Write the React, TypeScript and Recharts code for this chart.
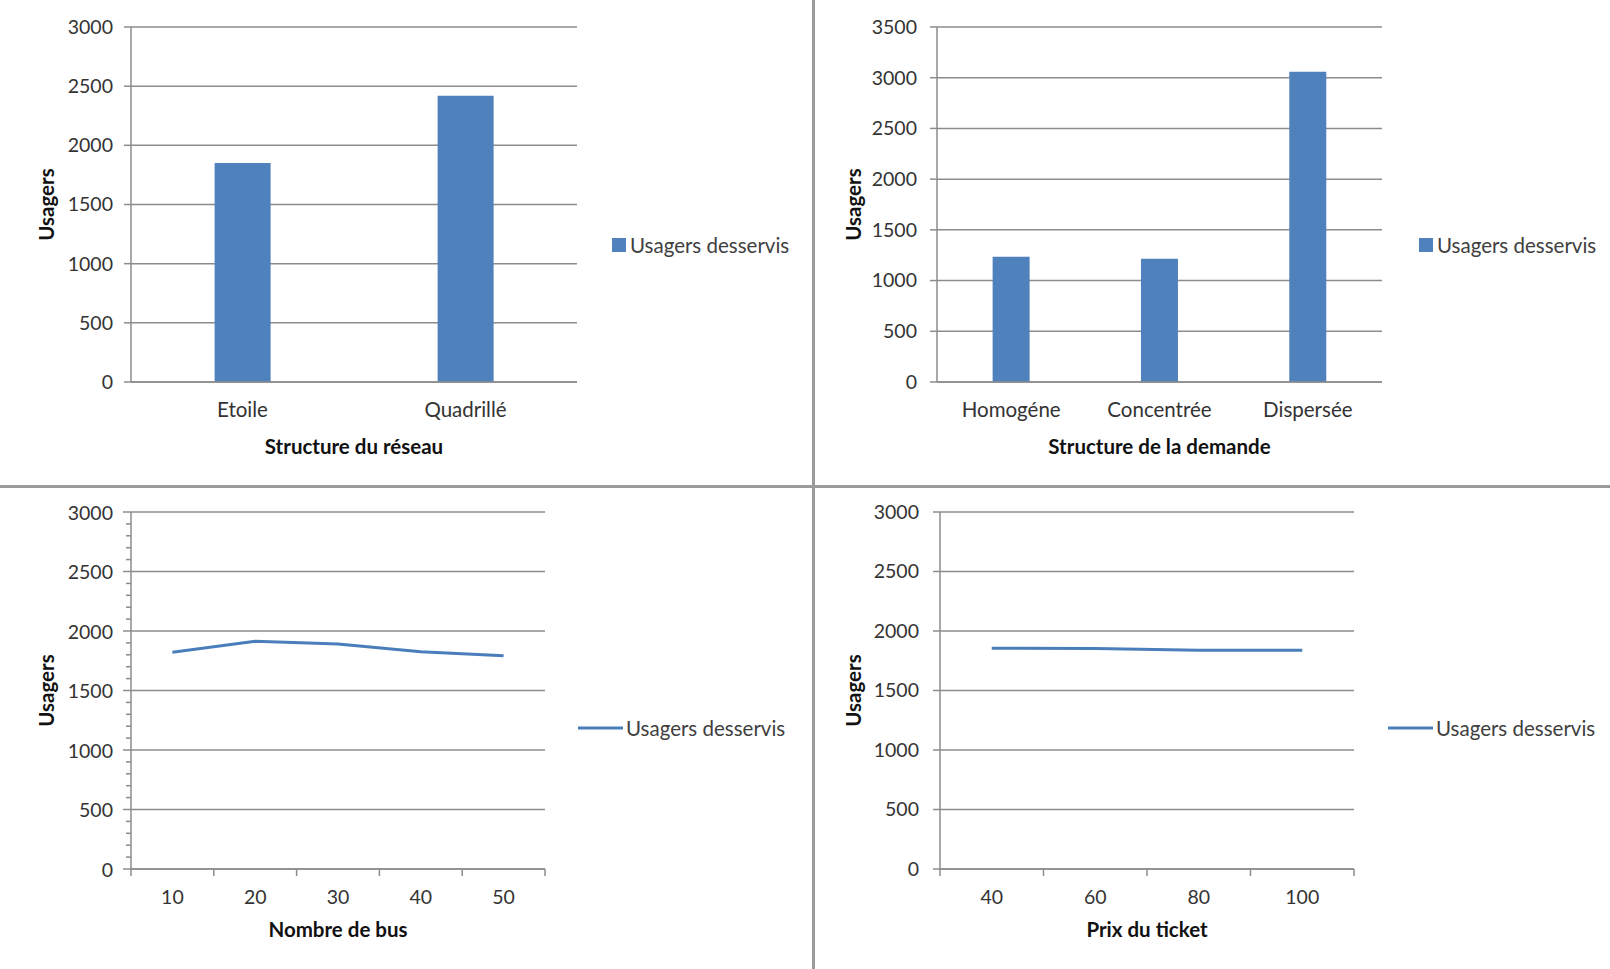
import React from 'react';
import { BarChart, Bar, LineChart, Line, XAxis, YAxis, CartesianGrid, Legend } from 'recharts';

const reseauCategories = ['Etoile', 'Quadrillé'];
const reseauUsagers = [1850, 2420];

const demandeCategories = ['Homogéne', 'Concentrée', 'Dispersée'];
const demandeUsagers = [1235, 1215, 3060];

const busCounts = [10, 20, 30, 40, 50];
const busUsagers = [1822, 1913, 1890, 1826, 1792];

const ticketPrices = [40, 60, 80, 100];
const ticketUsagers = [1856, 1853, 1838, 1838];

const ticks3000 = [0, 500, 1000, 1500, 2000, 2500, 3000];
const ticks3500 = [0, 500, 1000, 1500, 2000, 2500, 3000, 3500];
const minorTicks3000 = Array.from({ length: 31 }, (_, i) => i * 100);
const busBounds = [5, 15, 25, 35, 45, 55];
const ticketBounds = [30, 50, 70, 90, 110];

const SERIES = 'Usagers desservis';
const BLUE = '#4f81bd';
const LINE_BLUE = '#4a7ebb';
const GRID = '#8c8c8c';
const FONT = 'Lato, "Open Sans", sans-serif';

const reseauData = reseauCategories.map((c, i) => ({ cat: c, usagers: reseauUsagers[i] }));
const demandeData = demandeCategories.map((c, i) => ({ cat: c, usagers: demandeUsagers[i] }));
const busData = busCounts.map((b, i) => ({ x: b, usagers: busUsagers[i] }));
const ticketData = ticketPrices.map((p, i) => ({ x: p, usagers: ticketUsagers[i] }));

const numStyle = { fontSize: 19.5, fill: '#333', fontFamily: FONT };
const catStyle = { fontSize: 20.5, fill: '#333', fontFamily: FONT };
const titleStyle = { fontSize: 20.5, fill: '#111', fontWeight: 700, fontFamily: FONT };

function LegendItem(props: any) {
  const item = props.payload?.[0];
  const color = item?.color ?? BLUE;
  return (
    <div style={{ display: 'flex', alignItems: 'center', fontFamily: FONT, fontSize: 20.5, color: '#404040', lineHeight: '22px' }}>
      {props.kind === 'square' ? (
        <svg width={14} height={14} style={{ marginRight: 4 }}>
          <rect x={0} y={0} width={14} height={14} fill={color} />
        </svg>
      ) : (
        <svg width={45} height={4} style={{ marginRight: 3 }}>
          <line x1={0} y1={2} x2={45} y2={2} stroke={color} strokeWidth={3} />
        </svg>
      )}
      <span>{item?.value}</span>
    </div>
  );
}

// y ticks with minor marks every 100, labels only on multiples of 500
function MinorYTick(props: any) {
  const { x, y, payload } = props;
  const major = payload.value % 500 === 0;
  return (
    <g>
      <line x1={x} y1={y} x2={x - (major ? 8 : 5)} y2={y} stroke={GRID} strokeWidth={1.5} />
      {major && (
        <text x={x - 18} y={y} textAnchor="end" dominantBaseline="central" style={numStyle}>
          {payload.value}
        </text>
      )}
    </g>
  );
}

// x ticks: tick marks on category bounds, labels on centres
function makeBoundXTick(bounds: number[]) {
  return function BoundXTick(props: any) {
    const { x, y, payload } = props;
    if (bounds.includes(payload.value)) {
      return <line x1={x} y1={y} x2={x} y2={y + 7} stroke={GRID} strokeWidth={1.5} />;
    }
    return (
      <text x={x} y={y + 27} textAnchor="middle" dominantBaseline="central" style={numStyle}>
        {payload.value}
      </text>
    );
  };
}

const BusXTick = makeBoundXTick(busBounds);
const TicketXTick = makeBoundXTick(ticketBounds);

function yLabel(offset: number) {
  return { value: 'Usagers', angle: -90, position: 'insideLeft' as const, offset, style: { ...titleStyle, textAnchor: 'middle' } };
}

function xLabel(value: string, offset: number) {
  return { value, position: 'insideBottom' as const, offset, style: titleStyle };
}

function ReseauChart() {
  return (
    <BarChart width={800} height={484} data={reseauData} margin={{ top: 27, right: 223, bottom: 0, left: 0 }} barCategoryGap="37.5%">
      <CartesianGrid vertical={false} stroke={GRID} strokeWidth={1.5} />
      <XAxis dataKey="cat" height={102} tickLine={false} tickSize={0} tickMargin={20} stroke={GRID} strokeWidth={1.5} tick={catStyle} label={xLabel('Structure du réseau', 30)} />
      <YAxis width={131} domain={[0, 3000]} ticks={ticks3000} interval={0} tickSize={7} tickMargin={11} stroke={GRID} strokeWidth={1.5} tick={numStyle} label={yLabel(47)} />
      <Legend layout="horizontal" align="center" verticalAlign="middle" wrapperStyle={{ left: 612, top: 234, width: 190 }} content={(p: any) => <LegendItem {...p} kind="square" />} />
      <Bar dataKey="usagers" name={SERIES} fill={BLUE} isAnimationActive={false} />
    </BarChart>
  );
}

function DemandeChart() {
  return (
    <BarChart width={810} height={484} data={demandeData} margin={{ top: 27, right: 228, bottom: 0, left: 0 }} barCategoryGap="37.5%">
      <CartesianGrid vertical={false} stroke={GRID} strokeWidth={1.5} />
      <XAxis dataKey="cat" height={102} tickLine={false} tickSize={0} tickMargin={20} stroke={GRID} strokeWidth={1.5} tick={catStyle} label={xLabel('Structure de la demande', 30)} />
      <YAxis width={137} domain={[0, 3500]} ticks={ticks3500} interval={0} tickSize={7} tickMargin={13} stroke={GRID} strokeWidth={1.5} tick={numStyle} label={yLabel(54)} />
      <Legend layout="horizontal" align="center" verticalAlign="middle" wrapperStyle={{ left: 619, top: 234, width: 190 }} content={(p: any) => <LegendItem {...p} kind="square" />} />
      <Bar dataKey="usagers" name={SERIES} fill={BLUE} isAnimationActive={false} />
    </BarChart>
  );
}

function BusChart() {
  return (
    <LineChart width={800} height={485} data={busData} margin={{ top: 28, right: 255, bottom: 0, left: 0 }}>
      <CartesianGrid vertical={false} stroke={GRID} strokeWidth={1.5} horizontalValues={ticks3000} />
      <XAxis type="number" dataKey="x" domain={[5, 55]} ticks={[...busBounds, ...busCounts].sort((a, b) => a - b)} interval={0} height={100} tickLine={false} tickSize={0} tickMargin={0} stroke={GRID} strokeWidth={1.5} tick={<BusXTick />} label={xLabel('Nombre de bus', 32)} />
      <YAxis width={131} domain={[0, 3000]} ticks={minorTicks3000} interval={0} tickLine={false} tickSize={0} tickMargin={0} stroke={GRID} strokeWidth={1.5} tick={<MinorYTick />} label={yLabel(47)} />
      <Legend layout="horizontal" align="center" verticalAlign="middle" wrapperStyle={{ left: 578, top: 233, width: 210 }} content={(p: any) => <LegendItem {...p} kind="line" />} />
      <Line dataKey="usagers" name={SERIES} stroke={LINE_BLUE} strokeWidth={3} dot={false} type="linear" isAnimationActive={false} />
    </LineChart>
  );
}

function TicketChart() {
  return (
    <LineChart width={810} height={485} data={ticketData} margin={{ top: 28, right: 256, bottom: 0, left: 0 }}>
      <CartesianGrid vertical={false} stroke={GRID} strokeWidth={1.5} />
      <XAxis type="number" dataKey="x" domain={[30, 110]} ticks={[...ticketBounds, ...ticketPrices].sort((a, b) => a - b)} interval={0} height={100} tickLine={false} tickSize={0} tickMargin={0} stroke={GRID} strokeWidth={1.5} tick={<TicketXTick />} label={xLabel('Prix du ticket', 32)} />
      <YAxis width={140} domain={[0, 3000]} ticks={ticks3000} interval={0} tickSize={7} tickMargin={14} stroke={GRID} strokeWidth={1.5} tick={numStyle} label={yLabel(54)} />
      <Legend layout="horizontal" align="center" verticalAlign="middle" wrapperStyle={{ left: 588, top: 233, width: 210 }} content={(p: any) => <LegendItem {...p} kind="line" />} />
      <Line dataKey="usagers" name={SERIES} stroke={LINE_BLUE} strokeWidth={3} dot={false} type="linear" isAnimationActive={false} />
    </LineChart>
  );
}

export default function App() {
  return (
    <div style={{ position: 'absolute', left: 0, top: 0, width: 1610, height: 969, background: '#fff', overflow: 'hidden' }}>
      <div style={{ position: 'absolute', left: 0, top: 0 }}><ReseauChart /></div>
      <div style={{ position: 'absolute', left: 800, top: 0 }}><DemandeChart /></div>
      <div style={{ position: 'absolute', left: 0, top: 484 }}><BusChart /></div>
      <div style={{ position: 'absolute', left: 800, top: 484 }}><TicketChart /></div>
      <div style={{ position: 'absolute', left: 0, top: 485, width: 1610, height: 3, background: '#9a9a9a' }} />
      <div style={{ position: 'absolute', left: 812, top: 0, width: 3, height: 969, background: '#9a9a9a' }} />
    </div>
  );
}
